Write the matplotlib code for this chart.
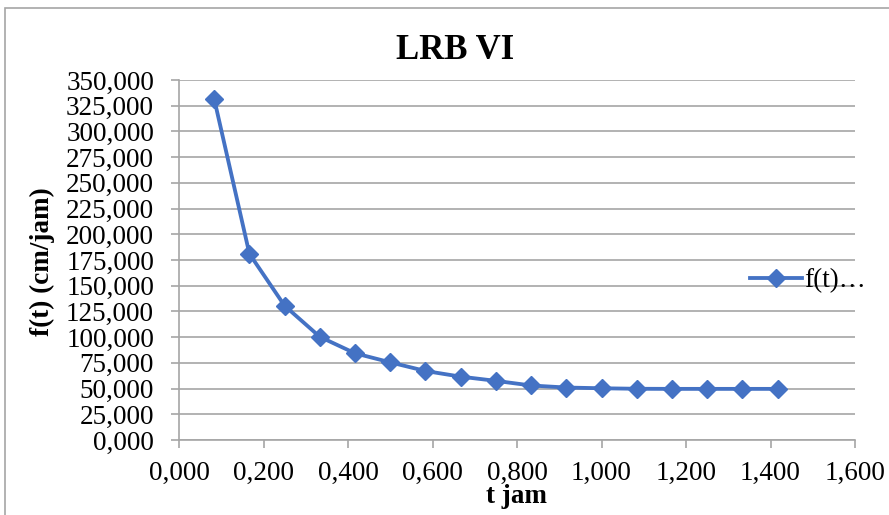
import matplotlib.pyplot as plt
from matplotlib.patches import Rectangle
from matplotlib.ticker import FuncFormatter, MultipleLocator

# time steps (jam) and infiltration rate f(t) (cm/jam)
t_jam = [1/12, 2/12, 3/12, 4/12, 5/12, 6/12, 7/12, 8/12, 9/12, 10/12,
         11/12, 12/12, 13/12, 14/12, 15/12, 16/12, 17/12]
f_t = [331.5, 181.0, 130.5, 100.3, 84.3, 75.5, 67.1, 61.6, 57.5, 53.0,
       51.0, 50.3, 49.8, 49.7, 49.7, 49.7, 49.7]

plt.rcParams['font.family'] = ['Liberation Serif', 'DejaVu Serif']

fig = plt.figure(figsize=(8.89, 5.15), dpi=100)
W, H = 889, 515
ax = fig.add_axes([179 / W, 1 - 440 / H, (855 - 179) / W, (440 - 80) / H])

blue = '#4472C4'
ax.plot(t_jam, f_t, color=blue, lw=2.75, marker='D', ms=9, label='f(t)…')

ax.set_xlim(0, 1.6)
ax.set_ylim(0, 350)
ax.xaxis.set_major_locator(MultipleLocator(0.2))
ax.yaxis.set_major_locator(MultipleLocator(25))
ax.xaxis.set_major_formatter(FuncFormatter(lambda v, p: f'{v:.3f}'.replace('.', ',')))
ax.yaxis.set_major_formatter(FuncFormatter(lambda v, p: f'{v:.0f},000'))
ax.grid(axis='y', color='#a6a6a6', lw=1.2)
ax.set_axisbelow(True)
for s in ['top', 'right']:
    ax.spines[s].set_visible(False)
for s in ['left', 'bottom']:
    ax.spines[s].set_color('#a6a6a6')
    ax.spines[s].set_linewidth(1.2)
ax.tick_params(axis='both', colors='#a6a6a6', labelcolor='black', labelsize=19.5,
               length=6, width=1.2)
ax.tick_params(axis='x', pad=9)
ax.tick_params(axis='y', pad=12)

fig.text(455 / W, 1 - 59 / H, 'LRB VI', fontsize=25, fontweight='bold',
         ha='center', va='baseline')
fig.text(516 / W, 1 - 503 / H, 't jam', fontsize=19.5, fontweight='bold',
         ha='center', va='baseline')
fig.text(42 / W, 1 - 262 / H, 'f(t) (cm/jam)', fontsize=19.5, fontweight='bold',
         ha='center', va='center', rotation=90)

ax.legend(loc='center left', bbox_to_anchor=(736 / W, 1 - 281 / H),
          bbox_transform=fig.transFigure, frameon=False, borderpad=0,
          fontsize=19.5, handlelength=1.93, handletextpad=0.1)

fig.patches.append(Rectangle((5 / W, -0.1), 1, 1 - 8 / H + 0.1, transform=fig.transFigure,
                             fill=False, edgecolor='#a6a6a6', lw=1.2))

fig.savefig('out.png', dpi=100)
